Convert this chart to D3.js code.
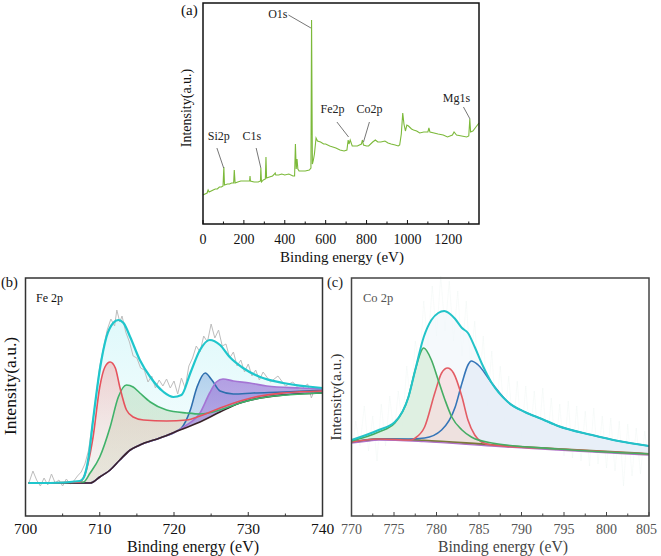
<!DOCTYPE html>
<html><head><meta charset="utf-8">
<script src="https://cdn.jsdelivr.net/npm/d3@7/dist/d3.min.js"></script>
<style>
html,body{margin:0;padding:0;background:#fff;}
</style></head>
<body><svg id="chart" width="661" height="556"></svg>
<script>
// ---------- DATA ----------
// (a) survey spectrum: [binding energy eV, intensity a.u.]
const surveyData = [[0,29],[10,30],[20,31],[25,34],[30,32],[40,33],[50,34],[60,35],[70,35],[80,37],[90,37],[98,38],[102,57],[105,39],[120,40],[130,40],[140,41],[150,41],[153,54],[157,41],[170,42],[185,43],[200,43],[215,43],[228,43],[230,48],[232,43],[250,42],[270,42],[281,43],[283,56],[286,42],[295,44],[305,45],[308,67],[311,46],[325,47],[340,48],[350,50],[353,51],[356,49],[370,49],[385,50],[400,49],[420,50],[440,48],[448,48],[452,80],[456,55],[460,65],[464,55],[470,53],[485,53],[500,53],[520,54],[528,56],[531,204],[535,60],[540,64],[545,70],[553,86],[560,83],[575,82],[590,80],[600,80],[620,78],[635,77],[650,76],[670,74],[690,73],[704,74],[710,84],[714,80],[720,84],[730,78],[745,78],[755,78],[765,79],[775,80],[780,84],[785,79],[800,78],[810,78],[830,82],[843,84],[855,82],[870,82],[890,83],[905,81],[920,80],[940,79],[955,78],[962,79],[970,90],[977,111],[983,100],[990,93],[997,99],[1005,98],[1020,95],[1030,94],[1045,93],[1060,91],[1080,92],[1100,92],[1105,96],[1110,92],[1130,91],[1150,90],[1175,89],[1196,87],[1220,89],[1228,92],[1240,89],[1265,88],[1290,87],[1300,88],[1305,105],[1309,92],[1320,93],[1335,97],[1350,101]];
const surveyTicks = [0,200,400,600,800,1000,1200];
// annotations: label, label anchor (eV,int), leader line from (eV,int) to (eV,int)
const surveyLabels = ["O1s","Si2p","C1s","Fe2p","Co2p","Mg1s"];
const surveyLabelAt = [[366,206],[77,84],[239,84],[634,111],[814,111],[1240,122]];
const surveyLeader = [[[418,209],[528,196]],[[68,76],[101,56]],[[260,76],[283,56]],[[655,102],[712,87]],[[814,102],[785,82]],[[1274,117],[1306,105]]];

// (b) Fe 2p
const feTicks = [700,710,720,730,740];
const feRaw = [[700.5,34],[701,45],[701.5,36],[702,30],[702.5,38],[703,31],[703.5,42],[704,33],[704.5,36],[705,30],[705.5,37],[706,32],[706.5,35],[707,40],[707.5,44],[708,52],[708.5,66],[709,92],[709.5,120],[710,150],[710.5,168],[711,186],[711.5,197],[712,190],[712.3,206],[712.7,194],[713,200],[713.5,184],[714,174],[714.5,160],[715,158],[715.5,148],[716,146],[716.5,134],[717,140],[717.5,128],[718,136],[718.5,130],[719,137],[719.5,128],[720,135],[720.5,122],[721,138],[721.5,128],[722,150],[722.5,158],[723,170],[723.5,164],[724,180],[724.5,174],[725,192],[725.5,178],[726,186],[726.5,170],[727,172],[727.5,158],[728,164],[728.5,150],[729,156],[729.5,144],[730,152],[730.5,140],[731,146],[731.5,136],[732,144],[733,134],[734,140],[735,130],[736,134],[737,126],[738,132],[738.5,118],[739,128],[740,126]];
const feEnvelope = [[700.4,33],[703.3,33],[707.3,35],[707.8,38],[708.5,59],[709.1,96],[710.0,146],[710.9,179],[711.8,193],[712.5,196],[713.2,193],[714.1,179],[715.4,156],[716.8,139],[718.6,124],[719.9,119],[721.0,121],[722.2,143],[723.5,166],[724.8,176],[726.2,171],[727.5,159],[729.3,148],[731.6,139],[734.7,133],[740,128]];
const feBackground = [[700.4,33],[708.7,33],[709.1,34],[710.0,39],[711.4,46],[712.7,56],[714.1,66],[715.4,71],[718.1,78],[720.8,86],[723.5,94],[726.2,104],[728.9,113],[731.6,118],[734.7,121],[740,123]];
const fePeakRed = [[700.4,33],[707.3,34],[707.8,38],[709.1,79],[710.0,129],[710.7,149],[711.4,154],[712.1,148],[712.7,129],[713.6,106],[714.5,99],[715.9,96],[719.0,95],[721.7,96],[723.5,100],[726.2,108],[728.9,115],[731.6,120],[734.7,123],[740,125]];
const fePeakGreen = [[700.4,33],[707.8,34],[708.7,43],[710.0,59],[711.4,89],[712.5,119],[713.6,131],[714.5,129],[715.4,123],[716.8,114],[719.0,106],[721.7,103],[723.5,102],[726.2,106],[728.9,113],[732.5,119],[740,123]];
const fePeakBlue = [[700.4,33],[708.7,33],[709.1,34],[710.0,39],[711.4,46],[712.7,56],[714.1,66],[715.4,71],[718.1,78],[720.4,85],[721.0,88],[722.2,106],[723.1,129],[724.2,143],[725.1,136],[726.2,125],[728.0,122],[730.7,123],[734.7,124],[740,126]];
const fePeakPurple = [[700.4,33],[708.7,33],[709.1,34],[710.0,39],[711.4,46],[712.7,56],[714.1,66],[715.4,71],[718.1,78],[720.8,86.5],[721.7,91],[723.5,103],[724.8,123],[725.7,134],[726.6,137],[728.0,135],[730.2,133],[732.5,130],[737.0,128],[740,127]];

// (c) Co 2p
const coTicks = [770,775,780,785,790,795,800,805];
const coRaw = [[770,60],[770.5,95],[771,70],[771.5,110],[772,65],[772.5,100],[773,55],[773.5,112],[774,70],[774.5,120],[775,80],[775.5,125],[776,90],[776.5,150],[777,110],[777.5,175],[778,150],[778.5,215],[779,170],[779.5,230],[780,180],[780.5,240],[781,185],[781.5,235],[782,175],[782.5,225],[783,160],[783.5,215],[784,150],[784.5,195],[785,125],[785.5,180],[786,110],[786.5,165],[787,100],[787.5,150],[788,95],[788.5,140],[789,85],[789.5,135],[790,80],[790.5,130],[791,75],[791.5,125],[792,72],[792.5,128],[793,68],[793.5,118],[794,65],[794.5,112],[795,60],[795.5,115],[796,58],[796.5,110],[797,55],[797.5,105],[798,50],[798.5,108],[799,52],[799.5,100],[800,48],[800.5,98],[801,45],[801.5,95],[802,30],[802.5,92],[803,40],[803.5,88],[804,42],[804.5,85],[805,50]];
const coEnvelope = [[770,76],[773.2,86],[775.1,94],[776.7,119],[777.5,146],[778.5,179],[779.4,196],[780.2,203],[780.9,205],[781.6,202],[782.2,197],[783.0,188],[783.7,183],[784.5,169],[785.3,153],[786.5,133],[788.4,114],[790.4,104],[792.4,97],[794.3,90],[798.3,81],[801.4,75],[805,70]];
const coBackground = [[770,74],[771.5,75.5],[773.2,77],[778.5,75.5],[786.5,71],[794.3,67],[805,62]];
const coPeakGreen = [[770,75],[773.2,84],[775.1,93],[776.7,119],[777.5,146],[778.5,168],[779.4,156],[780.2,136],[781.0,116],[781.8,99],[783.0,86],[784.1,79],[786.5,73],[794.3,67],[805,62]];
const coPeakRed = [[770,74],[773.2,77],[777.0,76],[777.5,78],[778.6,89],[779.8,123],[780.6,143],[781.3,148],[782.0,143],[783.0,119],[783.7,96],[784.5,81],[785.3,74],[786.5,71],[794.3,67],[805,62]];
const coPeakBlue = [[770,74],[773.2,77],[776.7,77],[778.6,78],[780.6,86],[782.2,109],[783.0,133],[783.7,151],[784.1,155],[784.9,151],[786.5,133],[788.4,114],[790.4,104],[792.4,97],[794.3,90],[798.3,81],[801.4,75],[805,70]];

// ---------- DRAW ----------
const svg = d3.select("#chart");

// ---------- Panel (a) ----------
(function(){
  const L=203, R=479, T=3, B=224;
  const x = d3.scaleLinear().domain([0,1350]).range([L,R]);
  const y = d3.scaleLinear().domain([0,221]).range([B,T]);
  const g = svg.append("g");
  g.append("path").datum(surveyData)
    .attr("d", d3.line().x(d=>x(d[0])).y(d=>y(d[1])))
    .attr("fill","none").attr("stroke","#7cb93a").attr("stroke-width",1.1);
  surveyLabels.forEach((lab,i)=>{
    const ln = surveyLeader[i];
    g.append("line").attr("x1",x(ln[0][0])).attr("y1",y(ln[0][1]))
      .attr("x2",x(ln[1][0])).attr("y2",y(ln[1][1]))
      .attr("stroke","#666").attr("stroke-width",0.9);
    g.append("text").attr("x",x(surveyLabelAt[i][0])).attr("y",y(surveyLabelAt[i][1]))
      .attr("text-anchor","middle").attr("font-size",12).attr("fill","#222").text(lab);
  });
  g.append("rect").attr("x",L).attr("y",T).attr("width",R-L).attr("height",B-T)
    .attr("fill","none").attr("stroke","#111").attr("stroke-width",1.5);
  const minor = d3.range(100,1350,200);
  g.selectAll(".mj").data(surveyTicks).join("line")
    .attr("x1",d=>x(d)).attr("x2",d=>x(d)).attr("y1",B).attr("y2",B-4)
    .attr("stroke","#111").attr("stroke-width",1);
  g.selectAll(".mn").data(minor).join("line")
    .attr("x1",d=>x(d)).attr("x2",d=>x(d)).attr("y1",B).attr("y2",B-2.5)
    .attr("stroke","#111").attr("stroke-width",1);
  g.selectAll(".tl").data(surveyTicks).join("text")
    .attr("x",d=>x(d)).attr("y",B+20).attr("text-anchor","middle")
    .attr("font-size",14).attr("fill","#111").text(d=>d);
  g.append("text").attr("x",342).attr("y",B+38).attr("text-anchor","middle")
    .attr("font-size",15).attr("fill","#111").text("Binding energy (eV)");
  g.append("text").attr("transform",`translate(${191},${108}) rotate(-90)`)
    .attr("text-anchor","middle").attr("font-size",14).attr("fill","#111").text("Intensity(a.u.)");
  g.append("text").attr("x",181).attr("y",15).attr("font-size",15).attr("fill","#111").text("(a)");
})();

function areaBetween(x,y,peak,bg){
  const bgi = d3.scaleLinear().domain(bg.map(d=>d[0])).range(bg.map(d=>d[1]));
  return d3.area().curve(d3.curveMonotoneX)
    .x(d=>x(d[0])).y0(d=>y(bgi(d[0]))).y1(d=>y(d[1]))(peak);
}

// ---------- Panel (b) ----------
(function(){
  const L=25.5, R=322.5, T=278, B=516;
  const x = d3.scaleLinear().domain([700,740]).range([L,R]);
  const y = d3.scaleLinear().domain([0,238]).range([B,T]);
  const g = svg.append("g");
  const defs = svg.append("defs");
  function grad(id,c1,o1,c2,o2){
    const lg = defs.append("linearGradient").attr("id",id).attr("x1",0).attr("x2",0).attr("y1",0).attr("y2",1);
    lg.append("stop").attr("offset","0%").attr("stop-color",c1).attr("stop-opacity",o1);
    lg.append("stop").attr("offset","100%").attr("stop-color",c2).attr("stop-opacity",o2);
  }
  grad("gEnv","#d2f6f9",0.7,"#eefcfd",0.5);
  grad("gRed","#f4a4a4",0.5,"#f6e6de",0.3);
  grad("gGreen","#b2dcb8",0.5,"#d6d6c4",0.6);
  grad("gBlue","#86aedf",0.55,"#c8d8f0",0.4);
  grad("gPurple","#9a78d8",0.7,"#b8a0e4",0.55);
  const line = d3.line().curve(d3.curveMonotoneX).x(d=>x(d[0])).y(d=>y(d[1]));
  g.append("path").attr("d",areaBetween(x,y,feEnvelope,feBackground)).attr("fill","url(#gEnv)");
  g.append("path").attr("d",areaBetween(x,y,fePeakGreen,feBackground)).attr("fill","url(#gGreen)");
  g.append("path").attr("d",areaBetween(x,y,fePeakRed,feBackground)).attr("fill","url(#gRed)");
  g.append("path").attr("d",areaBetween(x,y,fePeakBlue,feBackground)).attr("fill","url(#gBlue)");
  g.append("path").attr("d",areaBetween(x,y,fePeakPurple,feBackground)).attr("fill","url(#gPurple)");
  g.append("path").datum(feRaw).attr("d",d3.line().x(d=>x(d[0])).y(d=>y(d[1])))
    .attr("fill","none").attr("stroke","#bdbdbd").attr("stroke-width",1);
  g.append("path").datum(fePeakBlue).attr("d",line).attr("fill","none").attr("stroke","#2e6fae").attr("stroke-width",1.6);
  g.append("path").datum(fePeakPurple).attr("d",line).attr("fill","none").attr("stroke","#a474d4").attr("stroke-width",1.6);
  g.append("path").datum(feBackground).attr("d",line).attr("fill","none").attr("stroke","#3a2328").attr("stroke-width",1.6);
  g.append("path").datum(fePeakGreen).attr("d",line).attr("fill","none").attr("stroke","#3fb26a").attr("stroke-width",1.6);
  g.append("path").datum(fePeakRed).attr("d",line).attr("fill","none").attr("stroke","#e6525c").attr("stroke-width",1.6);
  g.append("path").datum(feEnvelope).attr("d",line).attr("fill","none").attr("stroke","#1fc6cc").attr("stroke-width",2.2);
  g.append("rect").attr("x",L).attr("y",T).attr("width",R-L).attr("height",B-T)
    .attr("fill","none").attr("stroke","#333").attr("stroke-width",1.5);
  const minor = d3.range(705,740,10);
  g.selectAll(".mj").data(feTicks).join("line")
    .attr("x1",d=>x(d)).attr("x2",d=>x(d)).attr("y1",B).attr("y2",B-4).attr("stroke","#333");
  g.selectAll(".mn").data(minor).join("line")
    .attr("x1",d=>x(d)).attr("x2",d=>x(d)).attr("y1",B).attr("y2",B-2.5).attr("stroke","#333");
  g.selectAll(".tl").data(feTicks).join("text")
    .attr("x",d=>x(d)).attr("y",B+18).attr("text-anchor","middle")
    .attr("font-size",15.5).attr("fill","#111").text(d=>d);
  g.append("text").attr("x",193).attr("y",B+36).attr("text-anchor","middle")
    .attr("font-size",16).attr("fill","#111").text("Binding energy (eV)");
  g.append("text").attr("transform",`translate(${16},${386}) rotate(-90)`)
    .attr("text-anchor","middle").attr("font-size",17.5).attr("fill","#111").text("Intensity(a.u.)");
  g.append("text").attr("x",1).attr("y",287).attr("font-size",14.5).attr("fill","#111").text("(b)");
  g.append("text").attr("x",36).attr("y",302).attr("font-size",12).attr("fill","#111").text("Fe 2p");
})();

// ---------- Panel (c) ----------
(function(){
  const L=351.5, R=649, T=278, B=516;
  const x = d3.scaleLinear().domain([770,805]).range([L,R]);
  const y = d3.scaleLinear().domain([0,238]).range([B,T]);
  const g = svg.append("g");
  const line = d3.line().curve(d3.curveMonotoneX).x(d=>x(d[0])).y(d=>y(d[1]));
  g.append("path").datum(coRaw).attr("d",d3.line().x(d=>x(d[0])).y(d=>y(d[1])))
    .attr("fill","none").attr("stroke","#dcebe9").attr("stroke-width",0.6).attr("opacity",0.35);
  g.append("path").attr("d",areaBetween(x,y,coEnvelope,coBackground)).attr("fill","#f1f7fb").attr("opacity",0.7);
  g.append("path").attr("d",areaBetween(x,y,coPeakBlue,coBackground)).attr("fill","#e2ebf7").attr("opacity",0.7);
  g.append("path").attr("d",areaBetween(x,y,coPeakGreen,coBackground)).attr("fill","#d5ecd7").attr("opacity",0.7);
  g.append("path").attr("d",areaBetween(x,y,coPeakRed,coBackground)).attr("fill","#f7dcde").attr("opacity",0.7);
  g.append("path").datum(coBackground).attr("d",line).attr("fill","none").attr("stroke","#7a7a3a").attr("stroke-width",2.2);
  g.append("path").datum(coBackground).attr("d",line).attr("fill","none").attr("stroke","#b070c8").attr("stroke-width",1.2).attr("transform","translate(0,1.2)");
  g.append("path").datum(coPeakBlue).attr("d",line).attr("fill","none").attr("stroke","#3575b8").attr("stroke-width",1.6);
  g.append("path").datum(coPeakRed).attr("d",line).attr("fill","none").attr("stroke","#e35c64").attr("stroke-width",1.6);
  g.append("path").datum(coPeakGreen).attr("d",line).attr("fill","none").attr("stroke","#45ad64").attr("stroke-width",1.6);
  g.append("path").datum(coEnvelope).attr("d",line).attr("fill","none").attr("stroke","#22c3c8").attr("stroke-width",2);
  g.append("rect").attr("x",L).attr("y",T).attr("width",R-L).attr("height",B-T)
    .attr("fill","none").attr("stroke","#444").attr("stroke-width",1.5);
  const minor = d3.range(772.5,805,5);
  g.selectAll(".mj").data(coTicks).join("line")
    .attr("x1",d=>x(d)).attr("x2",d=>x(d)).attr("y1",B).attr("y2",B-4).attr("stroke","#444");
  g.selectAll(".mn").data(minor).join("line")
    .attr("x1",d=>x(d)).attr("x2",d=>x(d)).attr("y1",B).attr("y2",B-2.5).attr("stroke","#444");
  const last = coTicks[coTicks.length-1];
  g.selectAll(".tl").data(coTicks).join("text")
    .attr("x",d=>d===last ? 657 : x(d)).attr("y",B+18)
    .attr("text-anchor",d=>d===last ? "end" : "middle")
    .attr("font-size",14).attr("fill","#555").text(d=>d);
  g.append("text").attr("x",503).attr("y",B+36).attr("text-anchor","middle")
    .attr("font-size",17).attr("fill","#444").attr("textLength",130).attr("lengthAdjust","spacingAndGlyphs").text("Binding energy (eV)");
  g.append("text").attr("transform",`translate(${341},${397}) rotate(-90)`)
    .attr("text-anchor","middle").attr("font-size",15.5).attr("fill","#333").text("Intensity(a.u.)");
  g.append("text").attr("x",327).attr("y",287).attr("font-size",14.5).attr("fill","#222").text("(c)");
  g.append("text").attr("x",363).attr("y",302).attr("font-size",12.5).attr("fill","#555").text("Co 2p");
})();

svg.selectAll("text").style("font-family","'Liberation Serif', 'DejaVu Serif', serif");
</script>
</body></html>
